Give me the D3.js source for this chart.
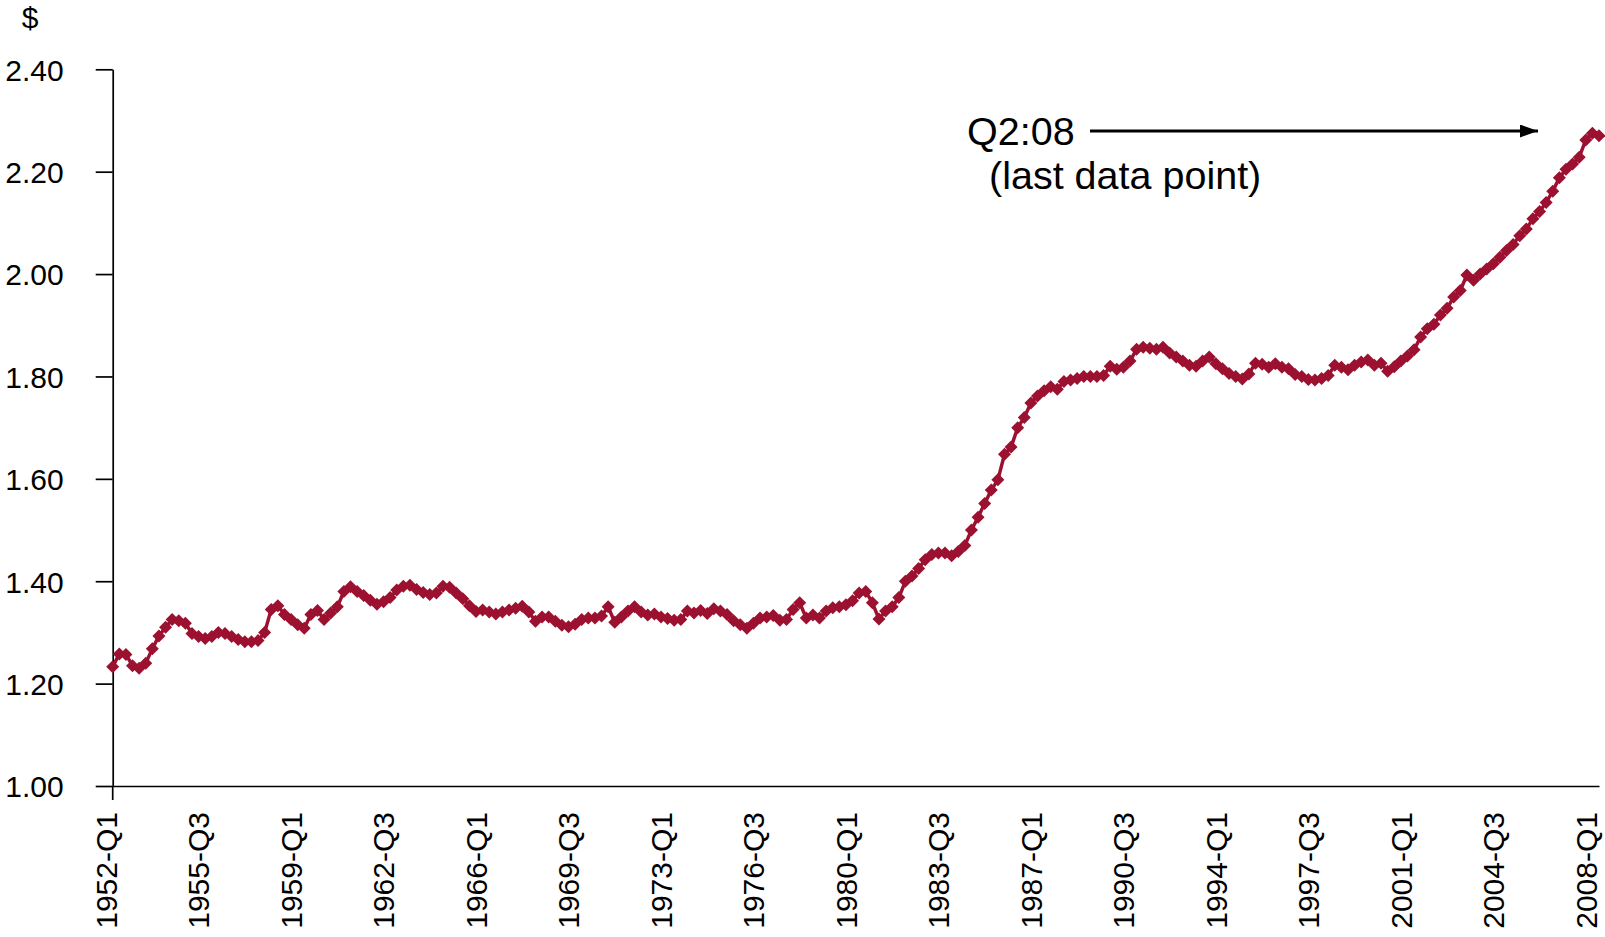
<!DOCTYPE html>
<html>
<head>
<meta charset="utf-8">
<script src="https://cdn.jsdelivr.net/npm/d3@7"></script>
<style>
  html, body { margin: 0; padding: 0; background: #fff; }
  svg { display: block; }
  text { font-family: "Liberation Sans", Arial, sans-serif; fill: #000; }
</style>
</head>
<body>
<svg id="chart" width="1605" height="937"></svg>
<script>
// ---- Data ----
const startYear = 1952;
const values = [
  1.233,1.258,1.257,1.235,1.230,1.240,1.268,1.293,1.310,1.325,
  1.323,1.318,1.298,1.292,1.288,1.292,1.300,1.298,1.292,1.286,
  1.282,1.282,1.284,1.300,1.345,1.352,1.335,1.325,1.315,1.308,
  1.335,1.343,1.325,1.338,1.350,1.380,1.389,1.380,1.372,1.363,
  1.355,1.360,1.368,1.383,1.390,1.392,1.384,1.378,1.374,1.377,
  1.390,1.388,1.377,1.366,1.352,1.341,1.344,1.340,1.336,1.340,
  1.344,1.347,1.351,1.340,1.322,1.330,1.330,1.322,1.314,1.311,
  1.316,1.325,1.328,1.328,1.332,1.350,1.320,1.330,1.342,1.350,
  1.340,1.334,1.336,1.330,1.327,1.324,1.325,1.342,1.338,1.343,
  1.337,1.346,1.342,1.335,1.323,1.315,1.308,1.318,1.328,1.330,
  1.333,1.324,1.325,1.345,1.358,1.328,1.334,1.328,1.342,1.348,
  1.350,1.354,1.362,1.377,1.380,1.358,1.326,1.342,1.350,1.368,
  1.400,1.410,1.425,1.442,1.452,1.455,1.455,1.450,1.458,1.470,
  1.500,1.525,1.552,1.578,1.598,1.648,1.662,1.700,1.720,1.748,
  1.762,1.772,1.780,1.775,1.790,1.793,1.796,1.800,1.800,1.800,
  1.802,1.820,1.814,1.818,1.830,1.853,1.857,1.855,1.853,1.857,
  1.846,1.838,1.830,1.822,1.820,1.830,1.838,1.825,1.815,1.806,
  1.800,1.795,1.805,1.826,1.824,1.818,1.825,1.818,1.815,1.804,
  1.800,1.794,1.793,1.796,1.802,1.822,1.818,1.813,1.822,1.828,
  1.832,1.822,1.826,1.810,1.819,1.830,1.840,1.852,1.877,1.893,
  1.902,1.920,1.933,1.955,1.968,1.998,1.988,2.000,2.010,2.020,
  2.033,2.046,2.058,2.075,2.088,2.108,2.122,2.140,2.162,2.188,
  2.205,2.215,2.228,2.262,2.275,2.270
];
const categories = values.map((v, i) => `${startYear + Math.floor(i / 4)}-Q${(i % 4) + 1}`);
const xTickLabels = ["1952-Q1","1955-Q3","1959-Q1","1962-Q3","1966-Q1","1969-Q3","1973-Q1",
  "1976-Q3","1980-Q1","1983-Q3","1987-Q1","1990-Q3","1994-Q1","1997-Q3","2001-Q1","2004-Q3","2008-Q1"];
const yTicks = [1.0, 1.2, 1.4, 1.6, 1.8, 2.0, 2.2, 2.4];
const unitLabel = "$";
const annotationLines = ["Q2:08", "(last data point)"];

// ---- Layout ----
const svg = d3.select("#chart");
const plotL = 112.7, plotR = 1599, plotT = 69.3, plotB = 786;
const color = "#9c1030";

const x = d3.scalePoint().domain(categories).range([plotL, plotR]);
const y = d3.scaleLinear().domain([1.0, 2.4]).range([plotB, plotT]);

// Y axis
const yAxis = svg.append("g")
  .attr("transform", `translate(${plotL},0)`)
  .call(d3.axisLeft(y).tickValues(yTicks).tickSize(17).tickSizeOuter(0)
    .tickPadding(32).tickFormat(d3.format(".2f")));
yAxis.selectAll("text").style("font-size", "30px").attr("dy", "0.36em");
yAxis.selectAll("line, path").attr("stroke", "#000").attr("stroke-width", 1.7);

// extension of y axis below x axis
svg.append("line").attr("x1", plotL).attr("x2", plotL).attr("y1", plotB).attr("y2", 800)
  .attr("stroke", "#000").attr("stroke-width", 1.7);

// X axis
const xAxis = svg.append("g")
  .attr("transform", `translate(0,${plotB})`)
  .call(d3.axisBottom(x).tickValues(xTickLabels).tickSize(0).tickSizeOuter(0));
xAxis.select("path").attr("stroke", "#000").attr("stroke-width", 1.7);
xAxis.selectAll("text")
  .style("font-size", "30px")
  .attr("text-anchor", "end")
  .attr("x", 0).attr("y", 0)
  .attr("dy", "0.12em")
  .attr("transform", "translate(0,26) rotate(-90)");

// Unit label
svg.append("text").attr("x", 30).attr("y", 28).attr("text-anchor", "middle")
  .style("font-size", "30px").text(unitLabel);

// Line
const line = d3.line().x((d, i) => x(categories[i])).y(d => y(d));
svg.append("path").datum(values)
  .attr("d", line).attr("fill", "none").attr("stroke", color).attr("stroke-width", 3.5);

// Diamond markers
const r = 6.5;
svg.append("g").selectAll("path").data(values).join("path")
  .attr("transform", (d, i) => `translate(${x(categories[i])},${y(d)})`)
  .attr("d", `M0,${-r}L${r},0L0,${r}L${-r},0Z`)
  .attr("fill", color);

// Annotation
svg.append("text").attr("x", 967).attr("y", 145).style("font-size", "39.5px").text(annotationLines[0]);
svg.append("text").attr("x", 989).attr("y", 189).style("font-size", "39.5px").text(annotationLines[1]);

const defs = svg.append("defs");
defs.append("marker").attr("id", "arrow").attr("viewBox", "0 0 18 13")
  .attr("refX", 18).attr("refY", 6.5).attr("markerWidth", 18).attr("markerHeight", 13)
  .attr("markerUnits", "userSpaceOnUse").attr("orient", "auto")
  .append("path").attr("d", "M0,0L18,6.5L0,13Z").attr("fill", "#000");
svg.append("line").attr("x1", 1090).attr("x2", 1538).attr("y1", 131).attr("y2", 131)
  .attr("stroke", "#000").attr("stroke-width", 3).attr("marker-end", "url(#arrow)");
</script>
</body>
</html>
